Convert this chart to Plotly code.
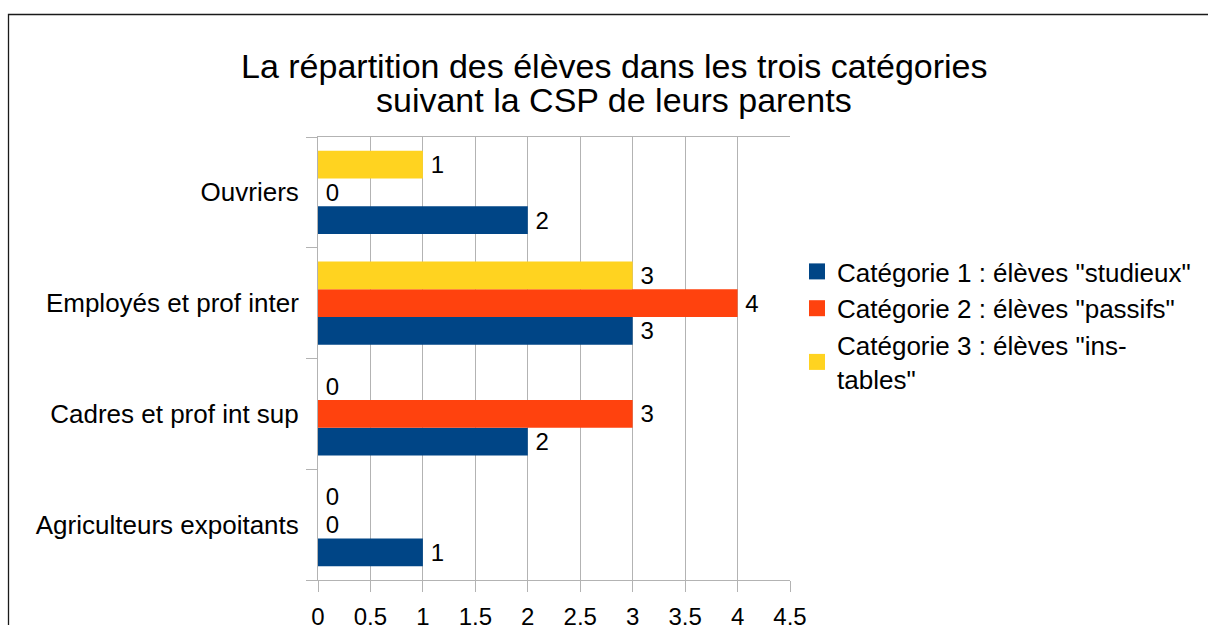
import plotly.graph_objects as go

# Catégories socio-professionnelles (de bas en haut sur l'axe)
csp = ["Agriculteurs expoitants", "Cadres et prof int sup", "Employés et prof inter", "Ouvriers"]

# Effectifs d'élèves par catégorie de comportement
studieux = [1, 2, 3, 2]
passifs = [0, 3, 4, 0]
instables = [0, 0, 3, 1]

series_names = [
    'Catégorie 1 : élèves "studieux"',
    'Catégorie 2 : élèves "passifs"',
    'Catégorie 3 : élèves "ins-<br>tables"',
]
series_values = [studieux, passifs, instables]
series_colors = ["#004586", "#ff420e", "#ffd320"]

x_ticks = [0, 0.5, 1, 1.5, 2, 2.5, 3, 3.5, 4, 4.5]

FONT = "Liberation Sans, Arial, sans-serif"
W, H = 1208, 625
L, R, T, B = 318, 418, 137, 45
PW, PH = W - L - R, H - T - B


def px_x(p):
    return (p - L) / PW


def px_y(p):
    return (H - B - p) / PH


fig = go.Figure()
for i, (name, vals, col) in enumerate(zip(series_names, series_values, series_colors)):
    fig.add_trace(go.Bar(
        y=csp, x=vals, name=name, orientation="h",
        marker=dict(color=col, line=dict(width=0)),
        text=vals, texttemplate="\u2009%{x}", textposition="outside",
        textfont=dict(family=FONT, size=24, color="#000000"),
        cliponaxis=False, showlegend=False,
    ))

# Légende : carrés de couleur (entrées sans points)
for i, (name, col) in enumerate(zip(series_names, series_colors)):
    fig.add_trace(go.Scatter(
        x=[None], y=[None], mode="markers", name=name,
        marker=dict(symbol="square", size=16, color=col, line=dict(width=0)),
        legendgroup=f"g{i}", showlegend=True,
    ))

fig.update_layout(
    width=W, height=H,
    margin=dict(l=L, r=R, t=T, b=B, autoexpand=False),
    paper_bgcolor="white", plot_bgcolor="white",
    barmode="group", bargap=0.25, bargroupgap=0,
    separators=", ",
    font=dict(family=FONT, color="#000000"),
    showlegend=True,
    legend=dict(
        x=px_x(797), y=px_y(248), xanchor="left", yanchor="top",
        font=dict(family=FONT, size=26, color="#000000"),
        traceorder="grouped", tracegroupgap=0, itemsizing="trace",
        bgcolor="rgba(0,0,0,0)",
    ),
    xaxis=dict(
        range=[0, 4.5], tickvals=x_ticks,
        showgrid=True, gridcolor="#b3b3b3", gridwidth=1,
        showline=True, linecolor="#b3b3b3", linewidth=1, mirror=True,
        ticks="outside", ticklen=11, tickcolor="#b3b3b3",
        tickfont=dict(family=FONT, size=24, color="#000000"),
        ticklabelstandoff=4, automargin=False,
        zeroline=False, fixedrange=True,
    ),
    yaxis=dict(
        showgrid=False, showline=True, linecolor="#b3b3b3", linewidth=1,
        ticks="outside", ticklen=11, tickcolor="#b3b3b3", tickson="boundaries",
        tickfont=dict(family=FONT, size=26, color="#000000"),
        ticklabelstandoff=13, automargin=False,
        categoryorder="array", categoryarray=csp,
        fixedrange=True,
    ),
    annotations=[
        dict(text="La répartition des élèves dans les trois catégories",
             x=px_x(614), y=px_y(66), xref="paper", yref="paper",
             xanchor="center", yanchor="middle", showarrow=False,
             font=dict(family=FONT, size=34, color="#000000")),
        dict(text="suivant la CSP de leurs parents",
             x=px_x(614), y=px_y(100), xref="paper", yref="paper",
             xanchor="center", yanchor="middle", showarrow=False,
             font=dict(family=FONT, size=34, color="#000000")),
    ],
    shapes=[
        dict(type="rect", xref="paper", yref="paper",
             x0=px_x(8.5), x1=px_x(1220), y0=px_y(640), y1=px_y(14.5),
             line=dict(color="#1a1a1a", width=1.3), fillcolor="rgba(0,0,0,0)",
             layer="below"),
    ],
)

fig.write_html("out.html")
